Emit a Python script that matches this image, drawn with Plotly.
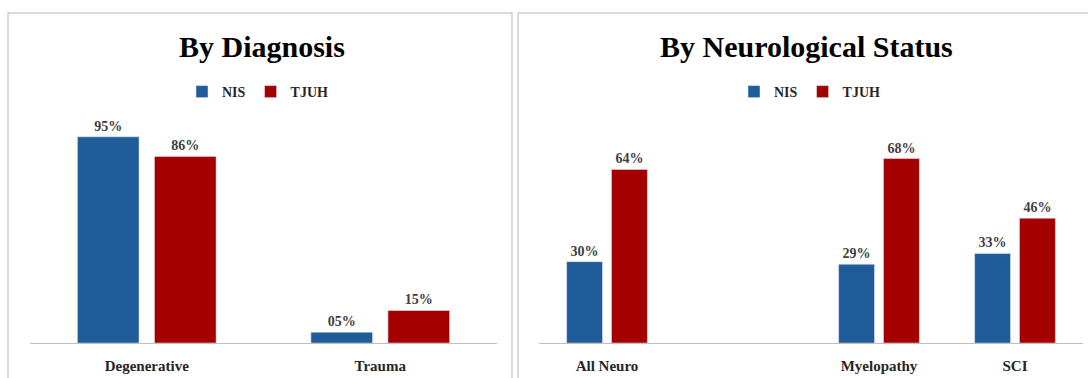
import plotly.graph_objects as go

W, H = 1088, 378

diag_categories = ["Degenerative", "Trauma"]
diag_nis = [95, 5]
diag_tjuh = [86, 15]

neuro_categories = ["All Neuro", " ", "Myelopathy", "SCI"]
neuro_nis = [30, None, 29, 33]
neuro_tjuh = [64, None, 68, 46]

BLUE = "#1F5C99"
RED = "#A50000"
FONT = "Liberation Serif"

def px_x(p):
    return p / W

def px_y(p):
    return 1 - p / H

def labels(vals):
    return ["" if v is None else f"{v:02d}%" for v in vals]

fig = go.Figure()

lab_font = dict(family=FONT, size=14, color="#404040", weight="bold")

fig.add_trace(go.Bar(x=diag_categories, y=diag_nis, name="NIS", marker_color=BLUE,
                     text=labels(diag_nis), textposition="outside", textfont=lab_font,
                     cliponaxis=False, xaxis="x", yaxis="y", legend="legend"))
fig.add_trace(go.Bar(x=diag_categories, y=diag_tjuh, name="TJUH", marker_color=RED,
                     text=labels(diag_tjuh), textposition="outside", textfont=lab_font,
                     cliponaxis=False, xaxis="x", yaxis="y", legend="legend"))
fig.add_trace(go.Bar(x=neuro_categories, y=neuro_nis, name="NIS", marker_color=BLUE,
                     text=labels(neuro_nis), textposition="outside", textfont=lab_font,
                     cliponaxis=False, xaxis="x2", yaxis="y2", legend="legend2"))
fig.add_trace(go.Bar(x=neuro_categories, y=neuro_tjuh, name="TJUH", marker_color=RED,
                     text=labels(neuro_tjuh), textposition="outside", textfont=lab_font,
                     cliponaxis=False, xaxis="x2", yaxis="y2", legend="legend2"))

ydom = [px_y(343), px_y(126)]
xaxis_common = dict(showline=True, linecolor="#BFBFBF", linewidth=1, ticks="",
                    showgrid=False, zeroline=False, fixedrange=True,
                    tickfont=dict(family=FONT, size=15, color="#262626", weight="bold"),
                    ticklabelstandoff=9, type="category")
yaxis_common = dict(visible=False, showgrid=False, zeroline=False, fixedrange=True)

legend_common = dict(orientation="h", font=dict(family=FONT, size=14, color="#262626", weight="bold"),
                     xanchor="center", yanchor="middle", bgcolor="rgba(0,0,0,0)",
                     itemwidth=30, tracegroupgap=0)

fig.update_layout(
    width=W, height=H,
    margin=dict(l=0, r=0, t=0, b=0),
    paper_bgcolor="white", plot_bgcolor="white",
    barmode="group", bargap=0.34, bargroupgap=0.2,
    xaxis=dict(domain=[px_x(30), px_x(497)], anchor="y", **xaxis_common),
    yaxis=dict(domain=ydom, range=[0, 100], anchor="x", **yaxis_common),
    xaxis2=dict(domain=[px_x(539), px_x(1083)], anchor="y2", **xaxis_common),
    yaxis2=dict(domain=ydom, range=[0, 80], anchor="x2", **yaxis_common),
    legend=dict(x=px_x(258), y=px_y(92), **legend_common),
    legend2=dict(x=px_x(810), y=px_y(92), **legend_common),
    showlegend=True,
    shapes=[
        dict(type="rect", xref="paper", yref="paper", x0=px_x(8), x1=px_x(512),
             y0=px_y(390), y1=px_y(13), line=dict(color="#D0D0D0", width=1.5)),
        dict(type="rect", xref="paper", yref="paper", x0=px_x(518), x1=px_x(1100),
             y0=px_y(390), y1=px_y(13), line=dict(color="#D0D0D0", width=1.5)),
    ],
    annotations=[
        dict(text="<b>By Diagnosis</b>", x=px_x(262), y=px_y(47), xref="paper", yref="paper",
             showarrow=False, font=dict(family=FONT, size=30, color="black"),
             xanchor="center", yanchor="middle"),
        dict(text="<b>By Neurological Status</b>", x=px_x(806), y=px_y(47), xref="paper", yref="paper",
             showarrow=False, font=dict(family=FONT, size=30, color="black"),
             xanchor="center", yanchor="middle"),
    ],
)

fig.write_html("out.html")
